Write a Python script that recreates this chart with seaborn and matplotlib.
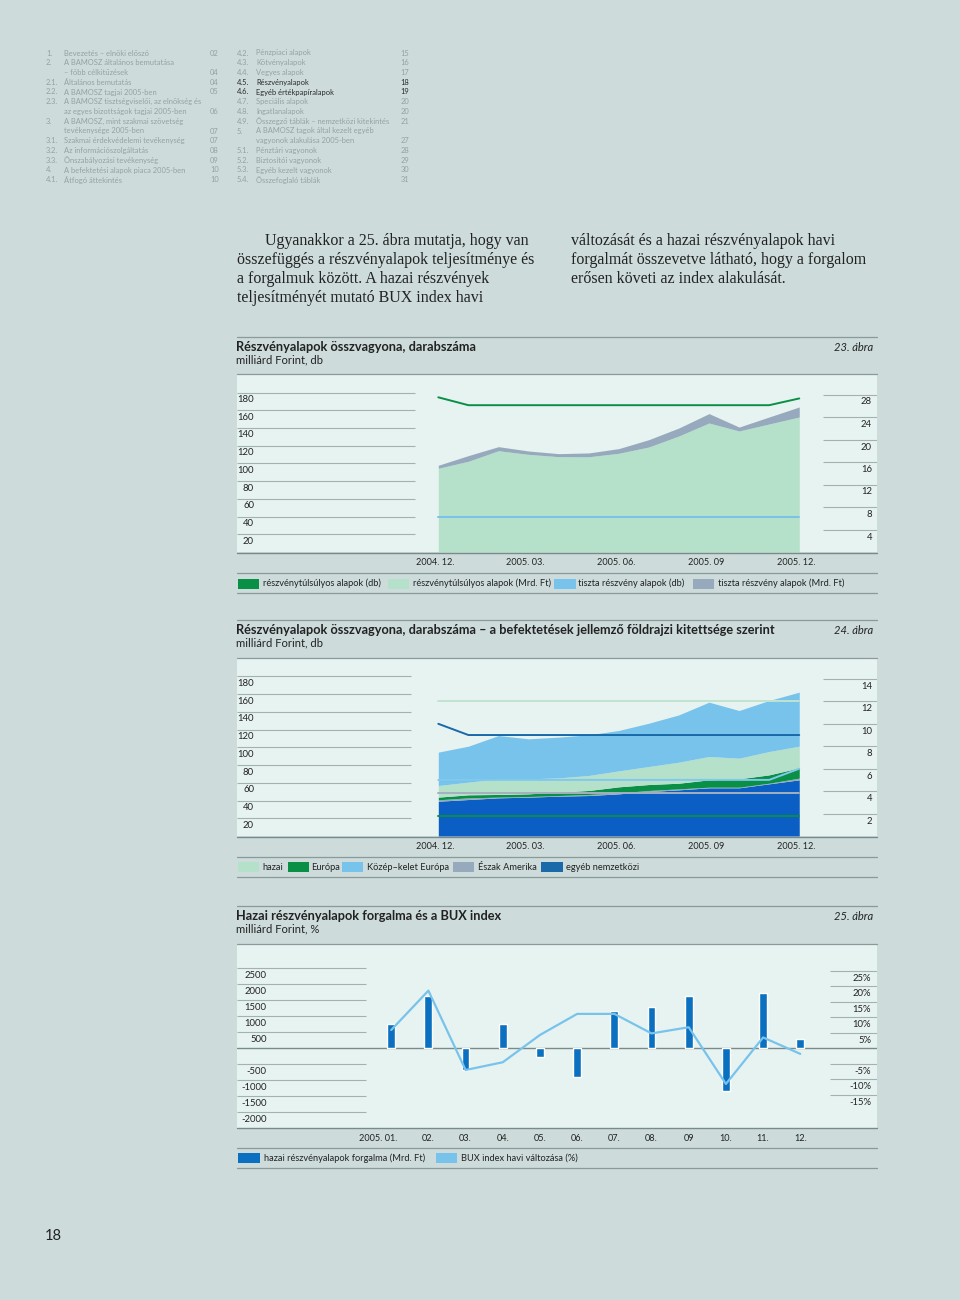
import numpy as np
import seaborn as sns
import matplotlib.pyplot as plt
import matplotlib.transforms as mtransforms
from matplotlib.lines import Line2D
from matplotlib.patches import Rectangle

# Adatok - 23. abra (2004.12 - 2005.12, havi)
honapok = [0, 1, 2, 3, 4, 5, 6, 7, 8, 9, 10, 11, 12]
honap_tick_pos = [0, 3, 6, 9, 12]
honap_cimkek = ["2004. 12.", "2005. 03.", "2005. 06.", "2005. 09", "2005. 12."]
tulsulyos_mrd = [94.5, 102.4, 114.3, 110.2, 107.6, 107.5, 111.4, 118.5, 131.0, 145.6, 136.6, 144.5, 152.4]
tiszta_mrd = [3.4, 6.4, 4.6, 3.8, 3.4, 4.3, 5.3, 8.3, 9.0, 10.6, 4.4, 7.9, 11.3]
tulsulyos_db = [27.5, 26.1, 26.1, 26.1, 26.1, 26.1, 26.1, 26.1, 26.1, 26.1, 26.1, 26.1, 27.3]
tiszta_db = [6.3, 6.3, 6.3, 6.3, 6.3, 6.3, 6.3, 6.3, 6.3, 6.3, 6.3, 6.3, 6.3]

# Adatok - 24. abra (foldrajzi kitettseg)
egyeb_mrd = [39.2, 41.1, 43.0, 43.8, 44.9, 45.6, 47.5, 50.1, 52.0, 54.3, 54.3, 58.8, 63.3]
eszak_mrd = [1.6, 1.9, 0.8, 0.7, 0.7, 1.2, 1.1, 1.2, 1.1, 0.7, 0.7, 0.7, 1.9]
europa_mrd = [3.0, 3.4, 3.0, 3.0, 3.8, 4.5, 6.8, 6.7, 6.4, 8.3, 9.4, 9.4, 11.6]
hazai_mrd = [13.1, 14.3, 17.6, 16.9, 16.1, 16.9, 18.0, 20.3, 23.7, 26.3, 23.3, 26.3, 24.4]
kke_mrd = [37.6, 40.5, 48.8, 45.1, 45.9, 45.8, 45.5, 48.8, 53.3, 61.2, 53.7, 57.5, 60.9]
hazai_db = [12, 12, 12, 12, 12, 12, 12, 12, 12, 12, 12, 12, 12]
europa_db = [1.8, 1.8, 1.8, 1.8, 1.8, 1.8, 1.8, 1.8, 1.8, 1.8, 1.8, 1.8, 1.8]
kke_db = [5, 5, 5, 5, 5, 5, 5, 5, 5, 5, 5, 5, 6]
eszak_db = [3.8, 3.8, 3.8, 3.8, 3.8, 3.8, 3.8, 3.8, 3.8, 3.8, 3.8, 3.8, 3.8]
egyeb_db = [10, 9, 9, 9, 9, 9, 9, 9, 9, 9, 9, 9, 9]

# Adatok - 25. abra (2005, havi)
ho_2005 = [0, 1, 2, 3, 4, 5, 6, 7, 8, 9, 10, 11]
ho_2005_cimkek = ["2005. 01.", "02.", "03.", "04.", "05.", "06.", "07.", "08.", "09", "10.", "11.", "12."]
forgalom = [760, 1634, -678, 750, -262, -887, 1166, 1281, 1634, -1334, 1719, 281]
bux_valtozas = [5.9, 18.6, -7.0, -4.5, 4.3, 11.1, 11.1, 4.8, 6.8, -11.5, 3.5, -1.8]

# Tartalomjegyzek
toc_bal = [
    ("1.", "Bevezetés – elnöki előszó", "02"),
    ("2.", "A BAMOSZ általános bemutatása", ""),
    ("", "– főbb célkitűzések", "04"),
    ("2.1.", "Általános bemutatás", "04"),
    ("2.2.", "A BAMOSZ tagjai 2005-ben", "05"),
    ("2.3.", "A BAMOSZ tisztségviselői, az elnökség és", ""),
    ("", "az egyes bizottságok tagjai 2005-ben", "06"),
    ("3.", "A BAMOSZ, mint szakmai szövetség", ""),
    ("", "tevékenysége 2005-ben", "07"),
    ("3.1.", "Szakmai érdekvédelemi tevékenység", "07"),
    ("3.2.", "Az információszolgáltatás", "08"),
    ("3.3.", "Önszabályozási tevékenység", "09"),
    ("4.", "A befektetési alapok piaca 2005-ben", "10"),
    ("4.1.", "Átfogó áttekintés", "10"),
]
toc_jobb = [
    ("4.2.", "Pénzpiaci alapok", "15"),
    ("4.3.", "Kötvényalapok", "16"),
    ("4.4.", "Vegyes alapok", "17"),
    ("4.5.", "Részvényalapok", "18"),
    ("4.6.", "Egyéb értékpapíralapok", "19"),
    ("4.7.", "Speciális alapok", "20"),
    ("4.8.", "Ingatlanalapok", "20"),
    ("4.9.", "Összegző táblák – nemzetközi kitekintés", "21"),
    ("5.", "A BAMOSZ tagok által kezelt egyéb", ""),
    ("", "vagyonok alakulása 2005-ben", "27"),
    ("5.1.", "Pénztári vagyonok", "28"),
    ("5.2.", "Biztosítói vagyonok", "29"),
    ("5.3.", "Egyéb kezelt vagyonok", "30"),
    ("5.4.", "Összefoglaló táblák", "31"),
]
kiemelt = ["4.5.", "4.6."]

szoveg_bal = [
    "Ugyanakkor a 25. ábra mutatja, hogy van",
    "összefüggés a részvényalapok teljesítménye és",
    "a forgalmuk között. A hazai részvények",
    "teljesítményét mutató BUX index havi",
]
szoveg_jobb = [
    "változását és a hazai részvényalapok havi",
    "forgalmát összevetve látható, hogy a forgalom",
    "erősen követi az index alakulását.",
]

sns.set_theme(style="white")
plt.rcParams["font.family"] = ["Lato", "DejaVu Sans"]

PAGE = "#cddcdb"
PLOT = "#e7f3f1"
RULE = "#8a9a9a"
GRID = "#a3b1b1"
AXIS = "#7a8a8a"
TEXT = "#222222"
TOC_GRAY = "#93a2a2"
LGREEN = "#b5e0ca"
DGREEN = "#0a8f47"
LBLUE = "#78c3ec"
GRAYBLUE = "#97aabd"
DBLUE = "#0b5fc4"
DBLUE_LINE = "#1a69a8"
BAR = "#0b70bf"

W, H = 960, 1300
fig = plt.figure(figsize=(W / 100, H / 100), dpi=100, facecolor=PAGE)

X0, X1 = 236.5, 877.0

def fx(x):
    return x / W

def fy(y):
    return 1 - y / H

def txt(x, y, s, **kw):
    kw.setdefault("va", "center")
    kw.setdefault("color", TEXT)
    fig.text(fx(x), fy(y), s, **kw)

def rule(y, color=RULE, lw=0.9):
    fig.add_artist(Line2D([fx(X0), fx(X1)], [fy(y), fy(y)], transform=fig.transFigure, color=color, lw=lw))

def patch(x0, x1, yc, color):
    fig.add_artist(Rectangle((fx(x0), fy(yc + 5)), (x1 - x0) / W, 10 / H,
                             transform=fig.transFigure, facecolor=color, lw=0))

def frac(x):
    return (x - X0) / (X1 - X0)

def chart_axes(top, bottom):
    ax = fig.add_axes([fx(X0), fy(bottom), (X1 - X0) / W, (bottom - top) / H])
    ax.set_facecolor(PLOT)
    for s in ax.spines.values():
        s.set_visible(False)
    ax2 = ax.twinx()
    for s in ax2.spines.values():
        s.set_visible(False)
    return ax, ax2

def grid_labels(ax, vals, labels, x_from, x_to, x_lab, ha, dy=-7):
    tr = ax.get_yaxis_transform()
    ax.hlines(vals, frac(x_from), frac(x_to), transform=tr, color=GRID, lw=0.8)
    tr_lab = mtransforms.offset_copy(tr, fig=fig, y=dy, units="dots")
    for v, l in zip(vals, labels):
        ax.text(frac(x_lab), v, l, transform=tr_lab, ha=ha, va="center", fontsize=6.8, color=TEXT)

def header(y_top, title, sub, abra):
    rule(y_top)
    txt(X0, y_top + 10, title, fontsize=9.2, fontweight="bold")
    txt(873, y_top + 10, abra, fontsize=8, style="italic", ha="right")
    txt(X0, y_top + 23, sub, fontsize=8.1)

def finish(ax, ax2, xlim, ticks, labels, shift=0):
    ax.set_xlim(*xlim)
    ax.set_xticks(ticks)
    ax.set_xticklabels(labels)
    ax.tick_params(axis="x", length=0, pad=4.5, labelsize=6.6, colors=TEXT)
    ax.set_yticks([])
    ax2.set_yticks([])
    ax.set(xlabel="", ylabel="")
    ax2.set(xlabel="", ylabel="")
    if shift:
        for lab in ax.get_xticklabels():
            lab.set_transform(lab.get_transform() + mtransforms.ScaledTranslation(shift / 100, 0, fig.dpi_scale_trans))

# Tartalomjegyzek

for i, (num, cim, old) in enumerate(toc_bal):
    y = 53 + i * 9.75
    c = TOC_GRAY
    txt(46, y, num, fontsize=5.45, color=c)
    txt(64, y, cim, fontsize=5.45, color=c)
    txt(219, y, old, fontsize=5.45, color=c, ha="right")

for i, (num, cim, old) in enumerate(toc_jobb):
    y = 53 + i * 9.75
    c = "#2a2a2a" if num in kiemelt else TOC_GRAY
    txt(237, y, num, fontsize=5.45, color=c)
    txt(256, y, cim, fontsize=5.45, color=c)
    txt(409, y, old, fontsize=5.45, color=c, ha="right")

# Folyo szoveg

for i, sor in enumerate(szoveg_bal):
    txt(265 if i == 0 else 237, 241 + i * 19, sor, fontsize=11.5, family="Liberation Serif")
for i, sor in enumerate(szoveg_jobb):
    txt(571, 241 + i * 19, sor, fontsize=11.5, family="Liberation Serif")

# 23. abra

header(337.3, "Részvényalapok összvagyona, darabszáma", "milliárd Forint, db", "23. ábra")
rule(373.5)
ax, ax2 = chart_axes(373.5, 552)
ax.set_ylim(0, 178.5 / 0.886)
ax2.set_ylim(0, 178.5 / 5.625)
teteje = np.array(tulsulyos_mrd) + np.array(tiszta_mrd)
ax.fill_between(honapok, 0, tulsulyos_mrd, color=LGREEN, lw=0)
ax.fill_between(honapok, tulsulyos_mrd, teteje, color=GRAYBLUE, lw=0)
sns.lineplot(x=honapok, y=tulsulyos_db, ax=ax2, color=DGREEN, linewidth=1.4)
sns.lineplot(x=honapok, y=tiszta_db, ax=ax2, color=LBLUE, linewidth=1.4)
grid_labels(ax, [180, 160, 140, 120, 100, 80, 60, 40, 20], ["180", "160", "140", "120", "100", "80", "60", "40", "20"],
            X0, 415, 254, "right")
grid_labels(ax2, [28, 24, 20, 16, 12, 8, 4], ["28", "24", "20", "16", "12", "8", "4"], 822.6, X1, 872, "right", dy=-7.5)
finish(ax, ax2, ((X0 - 438.3) / 30.08, (X1 - 438.3) / 30.08), honap_tick_pos, honap_cimkek, shift=-3)
rule(552.5, color=AXIS, lw=1.0)
rule(572.7)
rule(593.3)
for x0, x1, xt, c, l in [
    (237.6, 258.6, 262.8, DGREEN, "részvénytúlsúlyos alapok (db)"),
    (387.8, 408.9, 413.0, LGREEN, "részvénytúlsúlyos alapok (Mrd. Ft)"),
    (554.0, 576.0, 578.5, LBLUE, "tiszta részvény alapok (db)"),
    (693.0, 714.0, 718.2, GRAYBLUE, "tiszta részvény alapok (Mrd. Ft)"),
]:
    patch(x0, x1, 583.5, c)
    txt(xt, 583.5, l, fontsize=6.7)

# 24. abra

header(620.3, "Részvényalapok összvagyona, darabszáma – a befektetések jellemző földrajzi kitettsége szerint",
       "milliárd Forint, db", "24. ábra")
rule(657.7)
ax, ax2 = chart_axes(657.7, 836)
ax.set_ylim(0, 178.3 / 0.8875)
ax2.set_ylim(0, 178.3 / 11.22)
retegek = [egyeb_mrd, eszak_mrd, europa_mrd, hazai_mrd, kke_mrd]
szinek = [DBLUE, GRAYBLUE, DGREEN, LGREEN, LBLUE]
also = np.zeros(len(honapok))
for r, c in zip(retegek, szinek):
    felso = also + np.array(r)
    ax.fill_between(honapok, also, felso, color=c, lw=0)
    also = felso
for vonal, c in [(hazai_db, "#bfe4cf"), (egyeb_db, DBLUE_LINE), (kke_db, "#80c8ec"),
                 (eszak_db, "#a5b0be"), (europa_db, DGREEN)]:
    sns.lineplot(x=honapok, y=vonal, ax=ax2, color=c, linewidth=1.4)
grid_labels(ax, [180, 160, 140, 120, 100, 80, 60, 40, 20], ["180", "160", "140", "120", "100", "80", "60", "40", "20"],
            X0, 411, 254, "right")
grid_labels(ax2, [14, 12, 10, 8, 6, 4, 2], ["14", "12", "10", "8", "6", "4", "2"], 823.4, X1, 872, "right", dy=-7.5)
finish(ax, ax2, ((X0 - 438.3) / 30.08, (X1 - 438.3) / 30.08), honap_tick_pos, honap_cimkek, shift=-3)
rule(836.5, color=AXIS, lw=1.0)
rule(857.3)
rule(877.3)
for x0, x1, xt, c, l in [
    (237.6, 258.6, 262.8, LGREEN, "hazai"),
    (287.7, 308.7, 310.8, DGREEN, "Európa"),
    (341.5, 362.6, 366.8, LBLUE, "Közép–kelet Európa"),
    (453.0, 474.0, 478.3, GRAYBLUE, "Észak Amerika"),
    (541.4, 562.5, 565.9, DBLUE_LINE, "egyéb nemzetközi"),
]:
    patch(x0, x1, 867.3, c)
    txt(xt, 867.3, l, fontsize=6.7)

# 25. abra

header(906, "Hazai részvényalapok forgalma és a BUX index", "milliárd Forint, %", "25. ábra")
rule(944.3)
ax, ax2 = chart_axes(944.3, 1127.7)
ax.set_ylim(-79.4 * 31.25, 104 * 31.25)
ax2.set_ylim(-79.4 / 3.1, 104 / 3.1)
sns.barplot(x=ho_2005, y=forgalom, ax=ax, native_scale=True, color=BAR, saturation=1,
            width=0.21, errorbar=None)
sns.lineplot(x=ho_2005, y=bux_valtozas, ax=ax2, color=LBLUE, linewidth=1.6)
ax.axhline(0, color=AXIS, lw=1.0, zorder=0.8)
grid_labels(ax, [2500, 2000, 1500, 1000, 500, -500, -1000, -1500, -2000],
            ["2500", "2000", "1500", "1000", "500", "-500", "-1000", "-1500", "-2000"], X0, 366, 266.5, "right")
grid_labels(ax2, [25, 20, 15, 10, 5, -5, -10, -15], ["25%", "20%", "15%", "10%", "5%", "-5%", "-10%", "-15%"],
            829.7, X1, 871, "right", dy=-7.5)
finish(ax, ax2, ((X0 - 391.2) / 37.19, (X1 - 391.2) / 37.19), ho_2005, ho_2005_cimkek)
elso = ax.get_xticklabels()[0]
elso.set_ha("right")
elso.set_transform(elso.get_transform() + mtransforms.ScaledTranslation(6 / 100, 0, fig.dpi_scale_trans))
rule(1128.2, color=AXIS, lw=1.0)
rule(1148.3)
rule(1168.3)
for x0, x1, xt, c, l in [
    (237.6, 259.5, 264.5, BAR, "hazai részvényalapok forgalma (Mrd. Ft)"),
    (436.0, 457.0, 460.6, LBLUE, "BUX index havi változása (%)"),
]:
    patch(x0, x1, 1158.3, c)
    txt(xt, 1158.3, l, fontsize=6.7)

# Oldalszam

txt(45, 1236, "18", fontsize=10.5)

fig.savefig("out.png", dpi=100, facecolor=PAGE)
